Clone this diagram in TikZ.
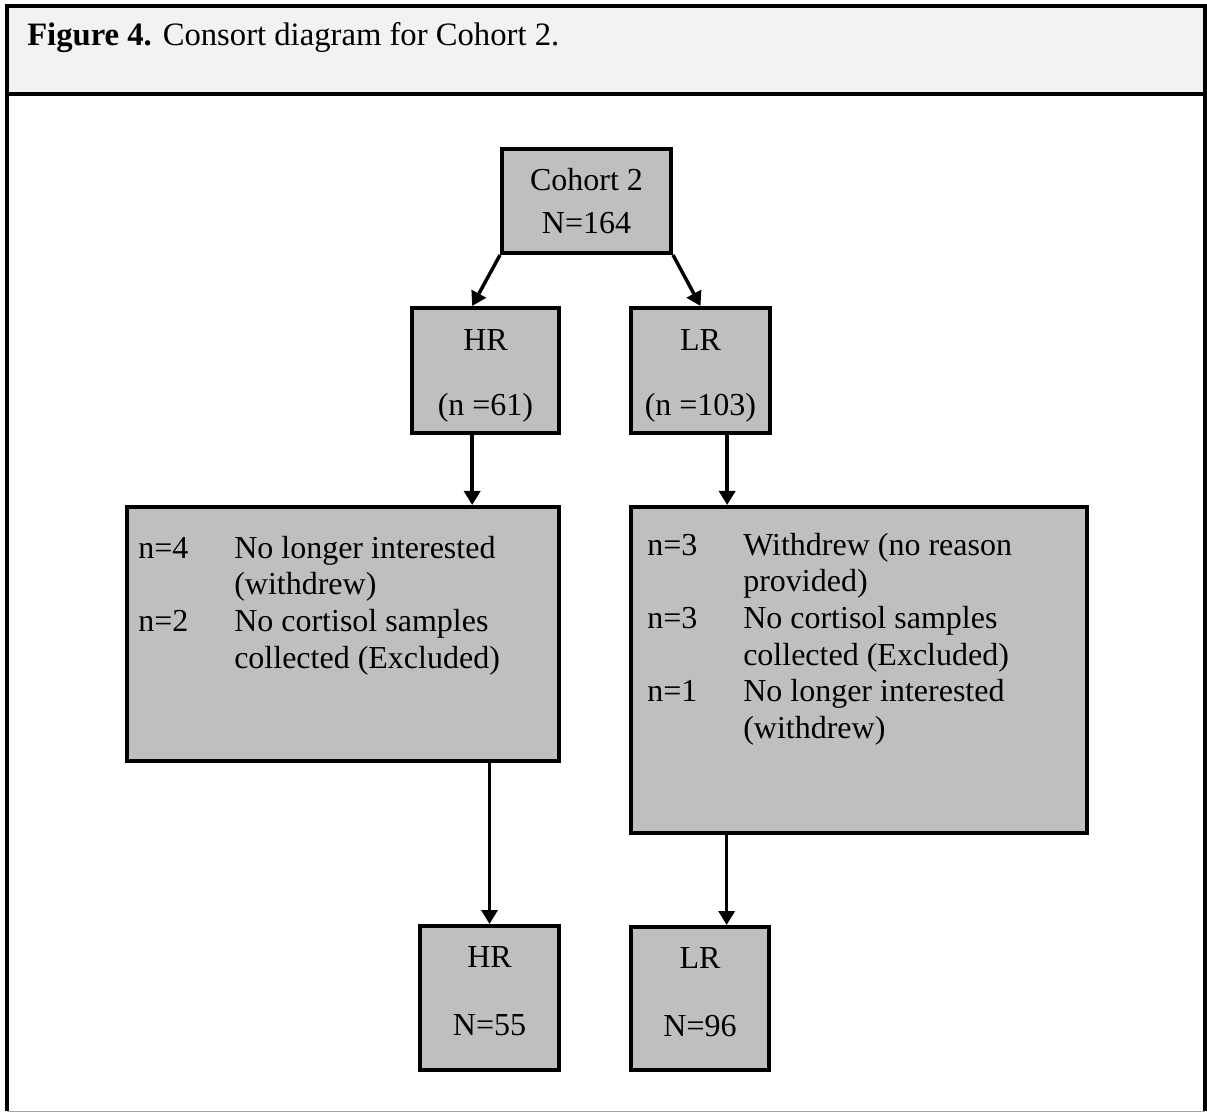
\documentclass[tikz,border=0pt]{standalone}
\usepackage{fontspec}
\setmainfont{Liberation Serif}
\usepackage{xcolor}
\usepackage{tikz}
\usetikzlibrary{arrows.meta, fit, positioning}
\definecolor{boxGrey}{HTML}{BFBFBF}
\definecolor{headGrey}{HTML}{F2F2F2}
\definecolor{edgeGrey}{HTML}{A6A6A6}

\begin{document}
\begin{tikzpicture}[x=0.75pt, y=-0.75pt,
        box/.style={draw=black, fill=boxGrey, line width=3pt, inner sep=0pt},
        txt/.style={inner sep=0pt, align=center, font=\fontsize{24}{27.5}\selectfont},
        arr/.style={-{Triangle[width=12pt,length=10.5pt]}, line width=2.6pt},
        lst/.style={anchor=base west, inner sep=0pt, font=\fontsize{24}{27.5}\selectfont}]
        \useasboundingbox (0,0) rectangle (1207,1112);
        \fill[headGrey] (7,6) rectangle (1205,94);
        \draw[line width=3pt] (7,1111) -- (7,6) -- (1205,6) -- (1205,1111);
        \draw[line width=3pt] (7,94) -- (1205,94);
        \draw[edgeGrey, line width=0.75pt] (7,1111) -- (1205,1111);
        \node[lst, font=\fontsize{24.5}{28}\selectfont] (caption) at (27,46) {\textbf{Figure 4.} Consort diagram for Cohort 2.};

        \node[box, fit={(502,149) (671,253)}] (cohort) {};
        \node[box, fit={(412,308) (559,433)}] (hrTop) {};
        \node[box, fit={(631,308) (770,433)}] (lrTop) {};
        \node[box, fit={(127,507) (559,761)}] (exclHR) {};
        \node[box, fit={(631,507) (1087,833)}] (exclLR) {};
        \node[box, fit={(420,926) (559,1070)}] (hrEnd) {};
        \node[box, fit={(631,927) (769,1070)}] (lrEnd) {};

        \node[txt, font=\fontsize{24}{32}\selectfont] (cohortTxt) at (cohort.center) {Cohort 2\\N=164};
        \node[txt] (hrTopTxt) at ([yshift=-4.3pt]hrTop.center) {HR\\[21pt](n =61)};
        \node[txt] (lrTopTxt) at ([yshift=-4.3pt]lrTop.center) {LR\\[21pt](n =103)};
        \node[txt] (hrEndTxt) at ([yshift=5pt]hrEnd.center) {HR\\[23.5pt]N=55};
        \node[txt] (lrEndTxt) at ([yshift=5pt]lrEnd.center) {LR\\[23.5pt]N=96};

        \node[lst] (exclHRtxt) at (138,558) {\begin{tabular}[t]{@{}p{72pt}@{}l@{}}
                n=4 & No longer interested\\
                    & (withdrew)\\
                n=2 & No cortisol samples\\
                    & collected (Excluded)
            \end{tabular}};
        \node[lst] (exclLRtxt) at (647,555) {\begin{tabular}[t]{@{}p{72pt}@{}l@{}}
                n=3 & Withdrew (no reason\\
                    & provided)\\
                n=3 & No cortisol samples\\
                    & collected (Excluded)\\
                n=1 & No longer interested\\
                    & (withdrew)
            \end{tabular}};

        \draw[arr] (cohort.south west) -- ([xshift=-10pt]hrTop.north);
        \draw[arr] (cohort.south east) -- (lrTop.north);
        \draw[arr] ([xshift=-10pt]hrTop.south) -- ([xshift=-10pt]hrTop.south |- exclHR.north);
        \draw[arr] ([xshift=20pt]lrTop.south) -- ([xshift=20pt]lrTop.south |- exclLR.north);
        \draw[arr] (hrEnd.north |- exclHR.south) -- (hrEnd.north);
        \draw[arr] ([xshift=20pt]lrEnd.north |- exclLR.south) -- ([xshift=20pt]lrEnd.north);
    \end{tikzpicture}
\end{document}
